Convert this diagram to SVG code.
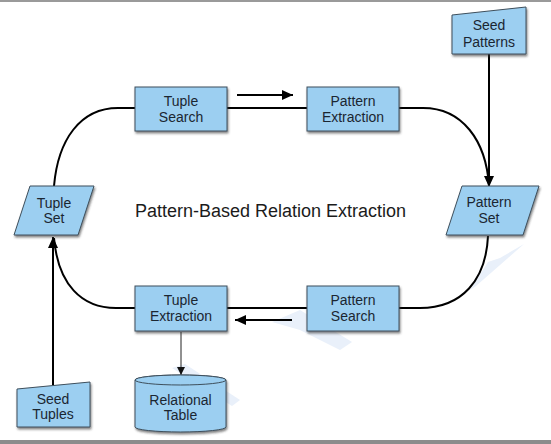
<svg xmlns="http://www.w3.org/2000/svg" width="551" height="444" viewBox="0 0 551 444">
  <style>
    .shape { fill: #9ccff1; stroke: #3e4f5c; stroke-width: 1; filter: url(#shadow); }
    .lbl { font-family: "Liberation Sans", Arial, sans-serif; font-size: 14px; fill: #1b2631; text-anchor: middle; }
    .title { font-family: "Liberation Sans", Arial, sans-serif; font-size: 18px; fill: #1b1b1b; text-anchor: middle; }
    .conn { fill: none; stroke: #000; stroke-width: 2; }
    .thin { fill: none; stroke: #222; stroke-width: 1; }
    .wm { fill: #e9f0fa; }
  </style>
  <defs>
    <filter id="shadow" x="-10%" y="-10%" width="130%" height="140%">
      <feDropShadow dx="1" dy="2" stdDeviation="1" flood-color="#333" flood-opacity="0.6"/>
    </filter>
    <marker id="arr" markerUnits="userSpaceOnUse" markerWidth="12" markerHeight="10" refX="11" refY="5" orient="auto">
      <path d="M0,0 L11,5 L0,10 z" fill="#000"/>
    </marker>
    <marker id="arrs" markerUnits="userSpaceOnUse" markerWidth="9" markerHeight="8" refX="8" refY="4" orient="auto">
      <path d="M0,0 L8,4 L0,8 z" fill="#111"/>
    </marker>
  </defs>
  <rect x="0" y="0" width="551" height="444" fill="#fff"/>
  <line x1="0" y1="1" x2="551" y2="1" stroke="#9a9a9a" stroke-width="2"/>
  <rect x="0" y="440" width="551" height="4" fill="#8c8c8c"/>
  <g id="watermark">
    <polygon class="wm" points="470,290 488,262 500,258 524,244 476,286"/>
    <polygon class="wm" points="272,322 300,310 352,342 340,350 300,330"/>
    <polygon class="wm" points="172,368 185,364 240,400 232,406"/>
  </g>
  <g id="connectors">
    <path class="conn" d="M54,186 C58,140 80,108 118,108 L135,108"/>
    <path class="conn" d="M227,108 L307,108"/>
    <path class="conn" d="M399,108 L423,108 C462,108 486,140 489,186"/>
    <path class="conn" d="M489,54 L489,187" marker-end="url(#arr)"/>
    <path class="conn" d="M488,236 C486,280 462,308 420,308 L399,308"/>
    <path class="conn" d="M307,308 L227,308"/>
    <path class="conn" d="M135,308 L116,308 C82,308 58,285 54,238"/>
    <path class="conn" d="M53,385 L53,237" marker-end="url(#arr)"/>
    <path class="conn" d="M237,95 L293,95" marker-end="url(#arr)"/>
    <path class="conn" d="M292,320 L235,320" marker-end="url(#arr)"/>
    <path class="thin" d="M181,332 L181,375" marker-end="url(#arrs)"/>
  </g>
  <g id="seed-patterns">
    <polygon class="shape" points="452,15 526,7 526,54 452,54"/>
    <text class="lbl" x="489" y="30">Seed</text>
    <text class="lbl" x="489" y="47">Patterns</text>
  </g>
  <g id="tuple-search">
    <rect class="shape" x="135" y="87" width="92" height="44"/>
    <text class="lbl" x="181" y="106">Tuple</text>
    <text class="lbl" x="181" y="122">Search</text>
  </g>
  <g id="pattern-extraction">
    <rect class="shape" x="307" y="87" width="92" height="44"/>
    <text class="lbl" x="353" y="106">Pattern</text>
    <text class="lbl" x="353" y="122">Extraction</text>
  </g>
  <g id="tuple-set">
    <polygon class="shape" points="30,186 94,186 78,235 14,235"/>
    <text class="lbl" x="54" y="208">Tuple</text>
    <text class="lbl" x="54" y="223">Set</text>
  </g>
  <g id="pattern-set">
    <polygon class="shape" points="462,186 539,186 523,235 446,235"/>
    <text class="lbl" x="489" y="207">Pattern</text>
    <text class="lbl" x="489" y="223">Set</text>
  </g>
  <g id="title">
    <text class="title" x="270.5" y="217">Pattern-Based Relation Extraction</text>
  </g>
  <g id="tuple-extraction">
    <rect class="shape" x="135" y="286" width="92" height="45"/>
    <text class="lbl" x="181" y="305">Tuple</text>
    <text class="lbl" x="181" y="321">Extraction</text>
  </g>
  <g id="pattern-search">
    <rect class="shape" x="307" y="286" width="92" height="45"/>
    <text class="lbl" x="353" y="305">Pattern</text>
    <text class="lbl" x="353" y="321">Search</text>
  </g>
  <g id="relational-table">
    <path class="shape" d="M135,380 L135,427 A45.5,5 0 0 0 226,427 L226,380 A45.5,5 0 0 0 135,380 z"/>
    <ellipse cx="180.5" cy="380" rx="45.5" ry="5" fill="#9ccff1" stroke="#3e4f5c" stroke-width="1"/>
    <text class="lbl" x="180.5" y="405">Relational</text>
    <text class="lbl" x="180.5" y="420">Table</text>
  </g>
  <g id="seed-tuples">
    <polygon class="shape" points="17,389 90,382 90,427 17,427"/>
    <text class="lbl" x="53" y="404">Seed</text>
    <text class="lbl" x="53" y="419">Tuples</text>
  </g>
</svg>
